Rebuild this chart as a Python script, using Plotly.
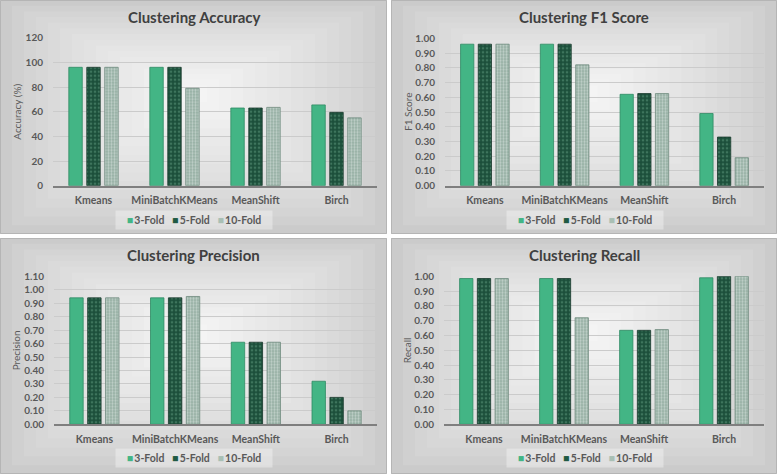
import plotly.graph_objects as go

categories = ["Kmeans", "MiniBatchKMeans", "MeanShift", "Birch"]
folds = ["3-Fold", "5-Fold", "10-Fold"]

accuracy_3 = [96, 96, 63, 65.5]
accuracy_5 = [96, 96, 63, 59.5]
accuracy_10 = [96, 79, 63.5, 55]

f1_3 = [0.96, 0.96, 0.62, 0.49]
f1_5 = [0.96, 0.96, 0.625, 0.33]
f1_10 = [0.96, 0.82, 0.625, 0.19]

precision_3 = [0.94, 0.94, 0.61, 0.32]
precision_5 = [0.94, 0.94, 0.61, 0.20]
precision_10 = [0.94, 0.95, 0.61, 0.10]

recall_3 = [0.985, 0.985, 0.635, 0.99]
recall_5 = [0.985, 0.985, 0.635, 1.00]
recall_10 = [0.985, 0.72, 0.64, 1.00]

titles = ["Clustering Accuracy", "Clustering F1 Score", "Clustering Precision", "Clustering Recall"]
ytitles = ["Accuracy (%)", "F1 Score", "Precision", "Recall"]

W, H = 777, 474
FONT = "Lato"
TXT = "#595959"

panels = [
    dict(box=(0, 0, 387, 234), plot=(53, 377, 37.7, 185.7), yr=[0, 120], dt=20, fmt="d", ytx=17,
         data=[accuracy_3, accuracy_5, accuracy_10]),
    dict(box=(391, 0, 777, 234), plot=(445, 764, 38.3, 185.7), yr=[0, 1.0], dt=0.1, fmt=".2f", ytx=408,
         data=[f1_3, f1_5, f1_10]),
    dict(box=(0, 238, 387, 474), plot=(54, 377, 276.3, 424.3), yr=[0, 1.1], dt=0.1, fmt=".2f", ytx=16,
         data=[precision_3, precision_5, precision_10]),
    dict(box=(391, 238, 777, 474), plot=(444, 764, 276.3, 424.3), yr=[0, 1.0], dt=0.1, fmt=".2f", ytx=407,
         data=[recall_3, recall_5, recall_10]),
]

styles = [
    dict(color="#43b585", line="#2f8a63", swatch="#43b585", pattern=None),
    dict(color="#1c4f3b", line="#17372b", swatch="#1f5a43",
         pattern=dict(shape=".", bgcolor="#1c4f3b", fgcolor="#5f9b80", size=4, solidity=0.35)),
    dict(color="#a9c0b5", line="#6f8a7d", swatch="#a9bfb4",
         pattern=dict(shape=".", bgcolor="#93ada1", fgcolor="#eef4f1", size=3, solidity=0.45)),
]

fig = go.Figure()
shapes = []
annotations = []
layout = {}


def px(x):
    return x / W


def py(y):
    return 1 - y / H


def lerp_color(c1, c2, t):
    a = [int(c1[i:i + 2], 16) for i in (1, 3, 5)]
    b = [int(c2[i:i + 2], 16) for i in (1, 3, 5)]
    return "#" + "".join(f"{round(a[k] + (b[k] - a[k]) * t):02x}" for k in range(3))


for i, p in enumerate(panels):
    n = "" if i == 0 else str(i + 1)
    x0, y0, x1, y1 = p["box"]
    # stepped radial-ish background
    steps = 16
    cx, cy = (x0 + x1) / 2, (y0 + y1) / 2 - 25
    for s in range(steps):
        t = s / (steps - 1)
        fx = 1 - t * 0.93
        hw = (x1 - x0) / 2 * fx
        hh_top = (cy - y0) * fx
        hh_bot = (y1 - cy) * fx
        shapes.append(dict(type="rect", xref="paper", yref="paper",
                           x0=px(cx - hw), x1=px(cx + hw), y0=py(cy + hh_bot), y1=py(cy - hh_top),
                           fillcolor=lerp_color("#cbcbcb", "#f4f4f4", t ** 0.75), line=dict(width=0),
                           layer="below"))
    shapes.append(dict(type="rect", xref="paper", yref="paper",
                       x0=px(x0 + 0.5), x1=px(x1 - 0.5), y0=py(y1 - 0.5), y1=py(y0 + 0.5),
                       fillcolor="rgba(0,0,0,0)", line=dict(color="#b5b5b5", width=1), layer="above"))

    pl, pr, pt, pb = p["plot"]
    layout["xaxis" + n] = dict(domain=[px(pl), px(pr)], anchor="y" + n, type="category",
                               showline=True, linecolor="#7f7f7f", linewidth=1.5,
                               ticks="outside", ticklen=4, tickcolor="rgba(0,0,0,0)",
                               tickfont=dict(family=FONT, size=10.5, color=TXT, weight="bold"),
                               showgrid=False, fixedrange=True, automargin=False)
    layout["yaxis" + n] = dict(domain=[py(pb), py(pt)], anchor="x" + n, range=p["yr"], dtick=p["dt"],
                               tick0=0, tickformat=p["fmt"], showgrid=True, gridcolor="#cbcbcb",
                               gridwidth=1, zeroline=False, showline=False, ticklabelstandoff=9,
                               tickfont=dict(family=FONT, size=10, color=TXT, weight="bold"),
                               fixedrange=True, automargin=False)

    for j, f in enumerate(folds):
        st = styles[j]
        marker = dict(color=st["color"], line=dict(color=st["line"], width=0.8))
        if st["pattern"]:
            marker["pattern"] = st["pattern"]
        fig.add_trace(go.Bar(x=categories, y=p["data"][j], name=f, marker=marker,
                             xaxis="x" + n, yaxis="y" + n, showlegend=False))

    # legend
    parts = []
    for j, f in enumerate(folds):
        parts.append(f"<span style='color:{styles[j]['swatch']}'>■</span>\u2009{f}")
    legend_text = "\u00a0\u00a0\u00a0" + "\u00a0\u00a0\u00a0".join(parts) + "\u00a0\u00a0\u00a0"
    annotations.append(dict(text=legend_text, xref="paper", yref="paper",
                            x=px((x0 + x1) / 2 + 1), y=py(y0 + 220), xanchor="center", yanchor="middle",
                            showarrow=False, bgcolor="rgba(255,255,255,0.35)", borderpad=3,
                            font=dict(family=FONT, size=10.5, color=TXT, weight="bold")))

    annotations.append(dict(text=titles[i], xref="paper", yref="paper", x=px((x0 + x1) / 2), y=py(y0 + 17),
                            xanchor="center", yanchor="middle", showarrow=False,
                            font=dict(family=FONT, size=15, color="#404040", weight="bold")))
    annotations.append(dict(text=ytitles[i], xref="paper", yref="paper", x=px(p["ytx"]), y=py((pt + pb) / 2),
                            xanchor="center", yanchor="middle", showarrow=False, textangle=-90,
                            font=dict(family=FONT, size=10, color=TXT)))

fig.update_layout(width=W, height=H, margin=dict(l=0, r=0, t=0, b=0, autoexpand=False),
                  paper_bgcolor="white", plot_bgcolor="rgba(0,0,0,0)",
                  barmode="group", bargap=0.335, bargroupgap=0.25, showlegend=False,
                  shapes=shapes, annotations=annotations, **layout)

fig.write_html("out.html", config={"displayModeBar": False},
               post_script="document.body.style.margin='0';")
